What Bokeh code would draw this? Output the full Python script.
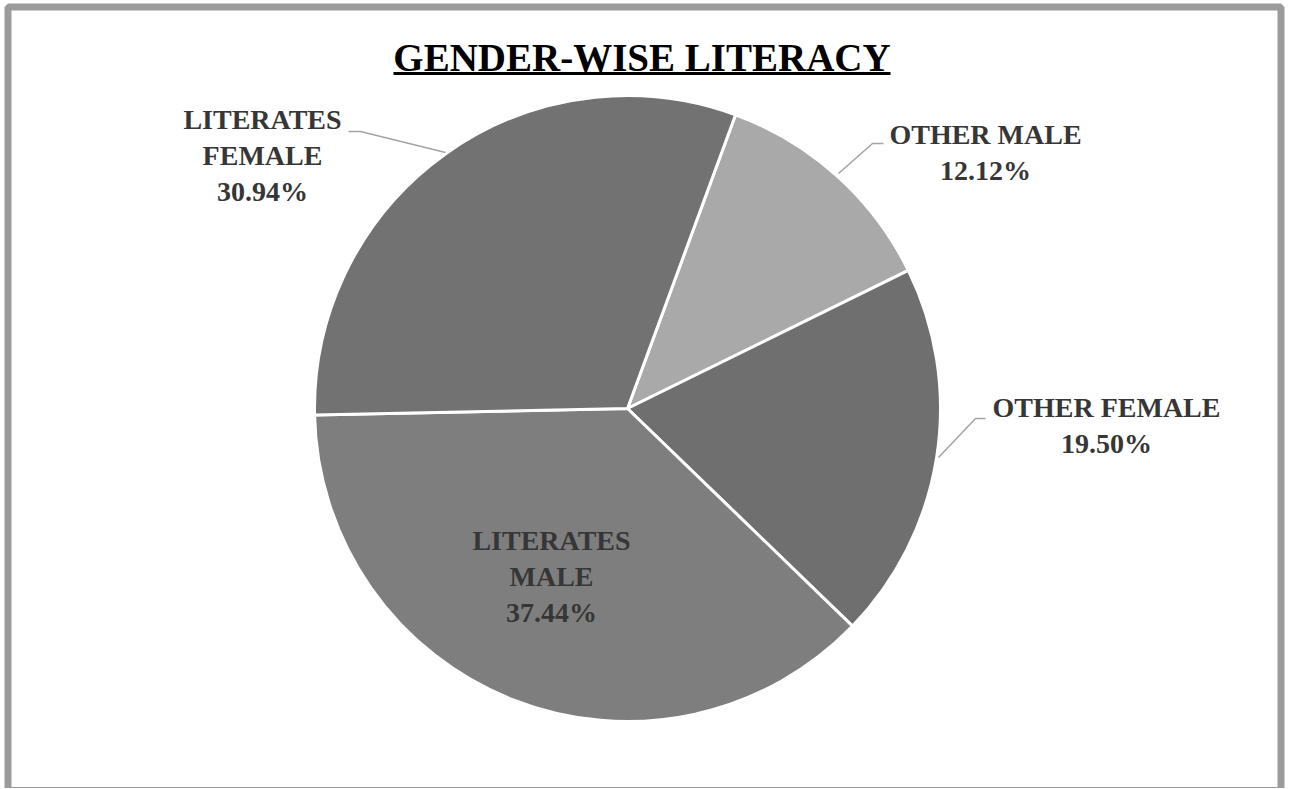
import numpy as np
from bokeh.plotting import figure
from bokeh.models import ColumnDataSource, Range1d
from bokeh.core.properties import value
from bokeh.embed import file_html
from bokeh.resources import INLINE

# ---- data ----
title_text = "GENDER-WISE LITERACY"
categories = ["OTHER MALE", "OTHER FEMALE", "LITERATES MALE", "LITERATES FEMALE"]
percentages = [12.12, 19.50, 37.44, 30.94]
colors = ["#a9a9a9", "#6f6f6f", "#7e7e7e", "#727272"]
first_slice_angle = 20.2  # degrees clockwise from 12 o'clock

# ---- layout helpers (1 data unit == 1 screen pixel) ----
W, H = 1290, 788
def X(px):
    return px
def Y(py):
    return H - py

p = figure(width=W, height=H, x_range=Range1d(0, W), y_range=Range1d(0, H),
           output_backend="svg", toolbar_location=None, min_border=0)
p.axis.visible = False
p.grid.visible = False
p.background_fill_color = "white"
p.border_fill_color = "white"
p.outline_line_color = None

# outer frame
p.quad(left=[X(7.5)], right=[X(1280.5)], top=[Y(6.5)], bottom=[Y(790)],
       fill_color=None, line_color="#9b9b9b", line_width=7)

total = sum(percentages)
cum = np.cumsum([0] + percentages)
start_deg = first_slice_angle + cum[:-1] / total * 360
end_deg = first_slice_angle + cum[1:] / total * 360

src = ColumnDataSource(dict(
    cat=categories, pct=percentages, color=colors,
    start=np.radians(90 - start_deg), end=np.radians(90 - end_deg),
))
p.wedge(x=X(627), y=Y(408), radius=313, start_angle="start", end_angle="end",
        direction="clock", fill_color="color", line_color="white", line_width=3,
        source=src)

# labels
label_pos = [(985, 152), (1106, 425), (551, 576), (262, 155)]
texts = []
for c, v in zip(categories, percentages):
    name = c.replace(" ", "\n") if c.startswith("LITERATES") else c
    texts.append(f"{name}\n{v:.2f}%")
p.text(x=[X(a) for a, b in label_pos], y=[Y(b) for a, b in label_pos], text=texts,
       text_font=value("Liberation Serif"), text_font_style="bold",
       text_font_size="28px", text_color="#363636", text_align="center",
       text_baseline="middle", text_line_height=1.15)

# leader lines
leaders_x = [[838, 872, 883], [938, 975, 985], [348, 360, 445]]
leaders_y = [[173, 143, 143], [457, 418, 418], [131, 131, 152]]
p.multi_line(xs=[[X(v) for v in l] for l in leaders_x],
             ys=[[Y(v) for v in l] for l in leaders_y],
             line_color="#a3a3a3", line_width=1.5)

# title
p.text(x=[X(641.5)], y=[Y(57)], text=[title_text],
       text_font=value("Liberation Serif"), text_font_style="bold",
       text_font_size="39px", text_color="black", text_align="center",
       text_baseline="middle")
p.segment(x0=[X(393)], y0=[Y(73)], x1=[X(890)], y1=[Y(73)],
          line_color="black", line_width=3)

open("out.html", "w").write(file_html(p, INLINE))
